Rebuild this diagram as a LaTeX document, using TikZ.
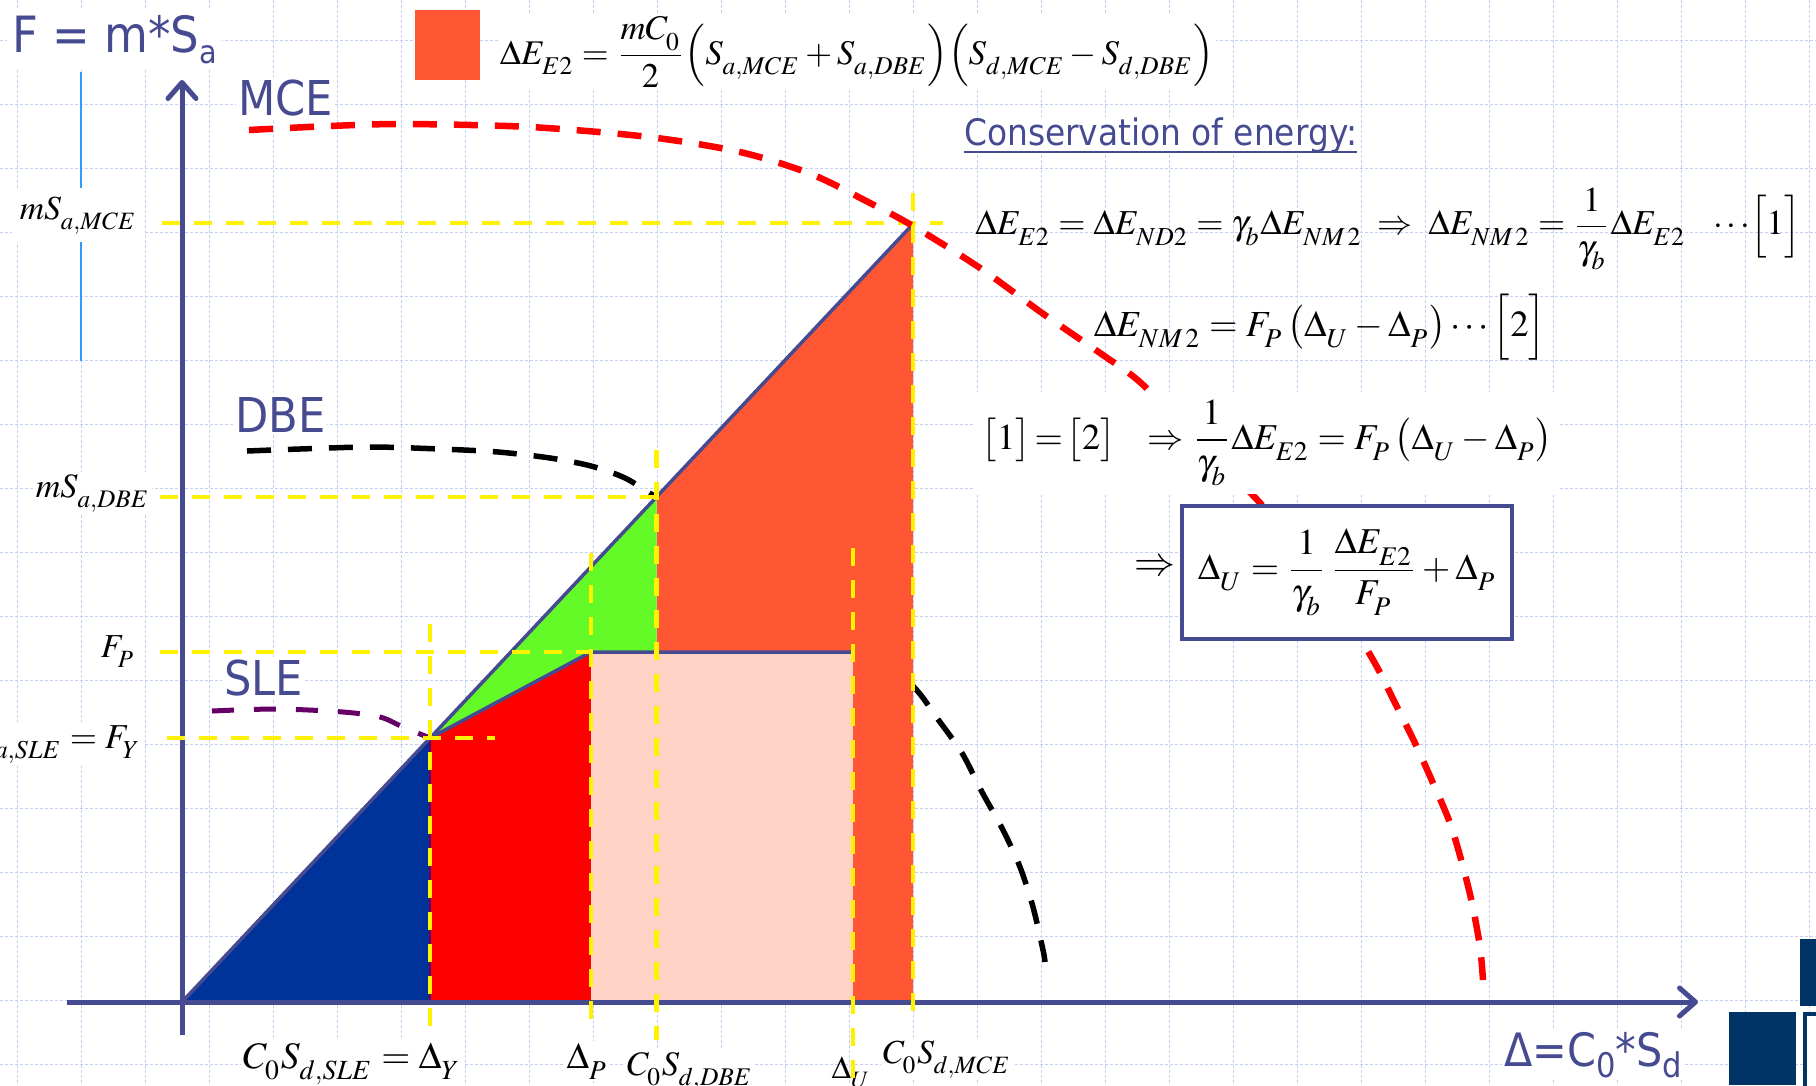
\documentclass[tikz,border=0pt]{standalone}
\usepackage{mathptmx}
\usepackage[no-math]{fontspec}
\usepackage{graphicx}
\usetikzlibrary{arrows.meta}
\newfontfamily\tah[FakeStretch=0.9]{DejaVu Sans}
\definecolor{slate}{RGB}{70,75,145}
\definecolor{gridc}{RGB}{196,208,242}
\definecolor{thinblue}{RGB}{51,153,255}
\definecolor{orng}{RGB}{255,87,51}
\definecolor{grn}{RGB}{100,250,40}
\definecolor{pnk}{RGB}{255,210,198}
\definecolor{navy}{RGB}{0,51,153}
\definecolor{sleviolet}{RGB}{102,0,102}
\definecolor{deco}{RGB}{0,51,102}
\everymath{\fontdimen16\textfont2=3.1pt\fontdimen17\textfont2=3.1pt}
\newcommand{\fw}[2]{\resizebox{#1pt}{!}{$\displaystyle #2$}}
\begin{document}
\begin{tikzpicture}[x=1pt,y=-1pt,
  gridst/.style={draw=gridc, line width=1pt, dash pattern=on 3pt off 2pt},
  ylw/.style={draw=yellow, line width=4.5pt, dash pattern=on 18pt off 14pt},
  mcecurve/.style={draw=red, line width=6.5pt, dash pattern=on 24pt off 17pt},
  dbecurve/.style={draw=black, line width=5.5pt, dash pattern=on 24pt off 17pt},
  slecurve/.style={draw=sleviolet, line width=5pt, dash pattern=on 22pt off 20pt},
  axisst/.style={draw=slate, line width=5pt},
  edgest/.style={draw=slate, line width=3.5pt},
  ttl/.style={text=slate, inner sep=2pt, fill=white},
  mlbl/.style={inner sep=2pt, fill=white},
  barb/.style={-{Straight Barb[length=16pt,width=28pt,round]}}
]
\useasboundingbox (0,0) rectangle (1816,1085);
\clip (0,0) rectangle (1816,1085);
\fill[white] (0,0) rectangle (1816,1085);

% grid
\foreach \gx in {0,...,28} { \draw[gridst] ({17+64*\gx},0) -- ({17+64*\gx},1085); }
\foreach \gy in {0,...,16} { \draw[gridst] (0,{40+64*\gy}) -- (1816,{40+64*\gy}); }

% thin blue line
\draw[thinblue, line width=1.6pt] (81,72) -- (81,361);

% key points
\coordinate (O) at (182,1002);
\coordinate (Y) at (430,738);
\coordinate (D) at (656.5,497);
\coordinate (M) at (913,224);
\coordinate (P) at (591,652);
\coordinate (Yb) at (430,1002);
\coordinate (Pb) at (591,1002);
\coordinate (Db) at (656.5,1002);
\coordinate (Dp) at (656.5,652);
\coordinate (Mb) at (913,1002);
\coordinate (U) at (853,652);
\coordinate (Ub) at (853,1002);

% DBE and SLE curves (under fills)
\draw[dbecurve] plot[smooth] coordinates {(247,451) (300,449) (371,447) (440,449) (498,452) (550,458) (591,466) (625,478) (656,497) (720,535) (790,585) (860,638) (913,686) (937,718) (962,753) (982,792) (1003,830) (1020,867) (1033,907) (1043,950) (1045,962)};
\draw[slecurve] plot[smooth] coordinates {(212,711) (277,709) (343,712) (380,717) (403,727) (430,738)};

% fills
\fill[orng] (D) -- (M) -- (Mb) -- (Db) -- cycle;
\fill[grn] (Y) -- (D) -- (Dp) -- (P) -- cycle;
\draw[grn, line width=2pt] (P) -- (Pb);
\fill[red] (Y) -- (P) -- (Pb) -- (Yb) -- cycle;
\fill[navy] (O) -- (Y) -- (Yb) -- cycle;
\draw[sleviolet, line width=2.5pt] (Y) -- (Yb);
\fill[pnk] (P) rectangle (Ub);

% structural lines
\draw[edgest] (O) -- (M);
\draw[edgest] (Y) -- (P) -- (U);

% axes
\coordinate (vbot) at (182,1035);
\coordinate (vtop) at (182,80);
\coordinate (hleft) at (67,1002);
\coordinate (hright) at (1698,1002);
\draw[axisst, barb] (vbot) -- (vtop);
\draw[axisst, barb] (hleft) -- (hright);

% axis titles and curve names
\node[ttl, anchor=base west, inner sep=5pt] (ftitle) at (7,52) {\tah\fontsize{50}{60}\selectfont F = m*S\raisebox{-0.22em}{\fontsize{32}{36}\selectfont a}};
\node[ttl, anchor=base west] (mcelbl) at (236,115) {\tah\fontsize{48}{56}\selectfont MCE};
\node[ttl, anchor=base west] (dbelbl) at (233,432) {\tah\fontsize{48}{56}\selectfont DBE};
\node[ttl, anchor=base west] (slelbl) at (222,695) {\tah\fontsize{48}{56}\selectfont SLE};
\node[ttl, anchor=base west] (dtitle) at (1502,1066) {\tah\fontsize{46}{56}\selectfont {\char"0394}=C\raisebox{-0.25em}{\fontsize{34}{40}\selectfont 0}*S\raisebox{-0.25em}{\fontsize{34}{40}\selectfont d}};

% left labels
\node[mlbl, anchor=base east, inner sep=8pt] (lmce) at (145,219) {\fw{117}{mS_{a,MCE}}};
\node[mlbl, anchor=base east] (ldbe) at (152,497) {\fw{114}{mS_{a,DBE}}};
\node[mlbl, anchor=base east] (lfp) at (137,657) {\fw{34}{F_P}};
\node[mlbl, anchor=base east] (lsle) at (143,748) {\scalebox{3.5}{$mS_{a,SLE} = F_Y$}};

% bottom labels
\node[mlbl, anchor=base] (bsle) at (352,1068) {\fw{218}{C_0S_{d,SLE} = \Delta_Y}};
\node[mlbl, anchor=base] (bdp) at (587,1068) {\fw{41}{\Delta_P}};
\node[mlbl, anchor=base] (bdbe) at (690,1075) {\fw{126}{C_0S_{d,DBE}}};
\node[inner sep=1pt, anchor=base] (bdu) at (851,1078) {\fw{39}{\Delta_U}};
\node[mlbl, anchor=base] (bmce) at (947,1063) {\fw{128}{C_0S_{d,MCE}}};

% legend square and top equation
\fill[orng] (415,10) rectangle (480,80);
\node[mlbl] (eq0) at (857,52) {\fw{714}{\Delta E_{E2} = \frac{mC_0}{2}\Big(S_{a,MCE}+S_{a,DBE}\Big)\Big(S_{d,MCE}-S_{d,DBE}\Big)}};

% conservation heading
\node[ttl, anchor=base west, inner sep=0pt] (cons) at (964,145) {\tah\fontsize{36.5}{44}\selectfont Conservation of energy:};
\draw[slate, line width=2.5pt] ([yshift=-7pt]cons.base west) -- ([yshift=-7pt]cons.base east);

% equation 1
\node[inner sep=0pt] (eq1) at (1388,229) {\fw{825}{\Delta E_{E2} = \Delta E_{ND2} = \gamma_b \Delta E_{NM\,2} \;\Rightarrow\; \Delta E_{NM\,2} = \frac{1}{\gamma_b}\Delta E_{E2}\ \ \cdots\!\Big[1\Big]}};

% yellow dashed guide lines
\draw[ylw] (162,223) -- (943,223);
\draw[ylw] (913,193) -- (913,1020);
\draw[ylw] (160,497) -- (D);
\draw[ylw] (656.5,450) -- (656.5,1040);
\draw[ylw] (160,652) -- (P);
\draw[ylw] (591,553) -- (591,1030);
\draw[ylw] (167,738) -- (495,738);
\draw[ylw] (430,624) -- (430,1030);
\draw[ylw] (853,548) -- (853,1085);

% MCE curve
\draw[mcecurve] plot[smooth] coordinates {(249,130) (330,126) (405,124) (530,127) (649,137) (740,152) (811,174) (870,203) (913,226) (980,268) (1042,313) (1100,353) (1141,383) (1200,443) (1262,505) (1310,565) (1353,627) (1377,667) (1397,707) (1415,743) (1433,783) (1450,823) (1462,863) (1472,903) (1480,947) (1483,980)};

% equations 2, 3 and boxed result
\node[inner sep=0pt] (eq2) at (1320,327) {\fw{452}{\Delta E_{NM\,2} = F_P\left(\Delta_U - \Delta_P\right)\cdots\Big[2\Big]}};
\node[fill=white, inner sep=8pt] (eq3) at (1267,443) {\fw{570}{\big[1\big]\!=\!\big[2\big]\ \ \Rightarrow \frac{1}{\gamma_b}\Delta E_{E2} = F_P\left(\Delta_U - \Delta_P\right)}};
\node[draw=slate, line width=4pt, fill=white, minimum width=330pt, minimum height=133pt, inner sep=0pt] (boxeq) at (1347,572.5) {\fw{298}{\Delta_U = \frac{1}{\gamma_b}\,\frac{\Delta E_{E2}}{F_P} + \Delta_P}};
\node[inner sep=0pt] (impl) at (1155,568) {\fw{41}{\Rightarrow}};

% slide decoration
\fill[deco] (1800,939) rectangle (1816,1006);
\fill[deco] (1729,1012) rectangle (1796,1085);
\draw[deco, line width=4pt, fill=white] (1805,1014) rectangle (1830,1095);
\end{tikzpicture}
\end{document}
